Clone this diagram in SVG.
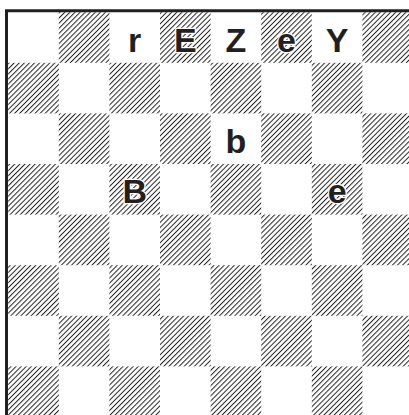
<svg xmlns="http://www.w3.org/2000/svg" width="409" height="415" viewBox="0 0 409 415">
<defs>
<pattern id="hatch" patternUnits="userSpaceOnUse" width="3.6" height="3.6" patternTransform="rotate(45)">
<rect x="0" y="0" width="1" height="3.6" fill="#222"/>
</pattern>
<style>
.dark{fill:url(#hatch)}
.pc{font-family:"Liberation Sans",Arial,sans-serif;font-weight:bold;font-size:34px;fill:#231f20;text-anchor:middle;stroke:#fff;stroke-width:2.5;paint-order:stroke;stroke-linejoin:round}
</style>
</defs>
<rect width="409" height="415" fill="#fff"/>
<g id="board">
<rect class="dark" x="58.8" y="12.2" width="50.6" height="50.6"/>
<rect class="dark" x="160" y="12.2" width="50.6" height="50.6"/>
<rect class="dark" x="261.2" y="12.2" width="50.6" height="50.6"/>
<rect class="dark" x="362.4" y="12.2" width="50.6" height="50.6"/>
<rect class="dark" x="8.2" y="62.8" width="50.6" height="50.6"/>
<rect class="dark" x="109.4" y="62.8" width="50.6" height="50.6"/>
<rect class="dark" x="210.6" y="62.8" width="50.6" height="50.6"/>
<rect class="dark" x="311.8" y="62.8" width="50.6" height="50.6"/>
<rect class="dark" x="58.8" y="113.4" width="50.6" height="50.6"/>
<rect class="dark" x="160" y="113.4" width="50.6" height="50.6"/>
<rect class="dark" x="261.2" y="113.4" width="50.6" height="50.6"/>
<rect class="dark" x="362.4" y="113.4" width="50.6" height="50.6"/>
<rect class="dark" x="8.2" y="164" width="50.6" height="50.6"/>
<rect class="dark" x="109.4" y="164" width="50.6" height="50.6"/>
<rect class="dark" x="210.6" y="164" width="50.6" height="50.6"/>
<rect class="dark" x="311.8" y="164" width="50.6" height="50.6"/>
<rect class="dark" x="58.8" y="214.6" width="50.6" height="50.6"/>
<rect class="dark" x="160" y="214.6" width="50.6" height="50.6"/>
<rect class="dark" x="261.2" y="214.6" width="50.6" height="50.6"/>
<rect class="dark" x="362.4" y="214.6" width="50.6" height="50.6"/>
<rect class="dark" x="8.2" y="265.2" width="50.6" height="50.6"/>
<rect class="dark" x="109.4" y="265.2" width="50.6" height="50.6"/>
<rect class="dark" x="210.6" y="265.2" width="50.6" height="50.6"/>
<rect class="dark" x="311.8" y="265.2" width="50.6" height="50.6"/>
<rect class="dark" x="58.8" y="315.8" width="50.6" height="50.6"/>
<rect class="dark" x="160" y="315.8" width="50.6" height="50.6"/>
<rect class="dark" x="261.2" y="315.8" width="50.6" height="50.6"/>
<rect class="dark" x="362.4" y="315.8" width="50.6" height="50.6"/>
<rect class="dark" x="8.2" y="366.4" width="50.6" height="50.6"/>
<rect class="dark" x="109.4" y="366.4" width="50.6" height="50.6"/>
<rect class="dark" x="210.6" y="366.4" width="50.6" height="50.6"/>
<rect class="dark" x="311.8" y="366.4" width="50.6" height="50.6"/>
</g>
<g id="frame">
<path d="M6.5,420 V10.8 H415" fill="none" stroke="#231f20" stroke-width="3"/>
</g>
<g id="pieces">
<text class="pc" x="134.7" y="52.3">r</text>
<text class="pc" x="185.3" y="52.3">E</text>
<text class="pc" x="235.9" y="52.3">Z</text>
<text class="pc" x="286.5" y="52.3">e</text>
<text class="pc" x="337.1" y="52.3">Y</text>
<text class="pc" x="235.9" y="152.5">b</text>
<text class="pc" x="134.7" y="203.3">B</text>
<text class="pc" x="337.1" y="203.3">e</text>
</g>
</svg>
